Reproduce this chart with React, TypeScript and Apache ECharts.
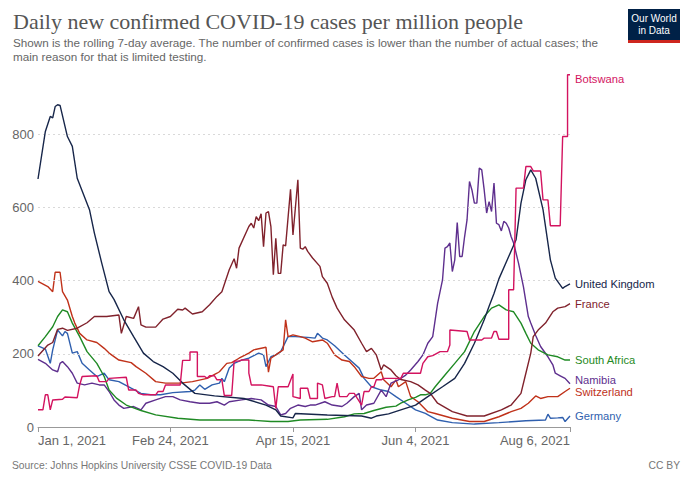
import React, { useEffect, useRef } from 'react';
import * as echarts from 'echarts';

const monthNames = ['Jan', 'Feb', 'Mar', 'Apr', 'May', 'Jun', 'Jul', 'Aug', 'Sep', 'Oct', 'Nov', 'Dec'];
const startDate = Date.UTC(2021, 0, 1);
const dayCount = 218; // Jan 1 .. Aug 6, 2021
const categories: string[] = Array.from({ length: dayCount }, (_, i) => {
  const d = new Date(startDate + i * 86400000);
  return `${monthNames[d.getUTCMonth()]} ${d.getUTCDate()}, ${d.getUTCFullYear()}`;
});
const tickDays = [0, 54, 104, 154, 217];
const tickLabels = ['Jan 1, 2021', 'Feb 24, 2021', 'Apr 15, 2021', 'Jun 4, 2021', 'Aug 6, 2021'];
const yTicks = [0, 200, 400, 600, 800];
const gridValues = [200, 400, 600, 800];

const germany = [[0,222],[3,213],[5,174],[6,211],[8,265],[10,249],[11,261],[12,256],[14,202],[16,206],[18,174],[21,156],[24,138],[27,147],[29,129],[33,124],[38,106],[42,92],[46,88],[50,88],[55,94],[62,97],[64,101],[66,115],[68,103],[71,115],[74,120],[75,133],[76,124],[78,161],[80,174],[83,183],[86,188],[90,202],[92,197],[93,165],[95,192],[97,197],[99,206],[102,247],[105,247],[110,245],[113,243],[114,256],[116,243],[118,238],[121,222],[125,197],[128,179],[131,161],[133,133],[136,110],[140,101],[143,97],[146,83],[150,65],[154,47],[158,37],[160,30],[163,19],[169,12],[178,8],[188,12],[199,17],[207,19],[208,35],[209,24],[212,25],[214,26],[215,15],[217,30]];

const switzerland = [[0,398],[4,384],[6,370],[7,423],[9,423],[10,370],[12,347],[14,302],[15,284],[17,256],[20,238],[24,231],[27,215],[29,202],[33,183],[38,176],[40,165],[44,147],[48,124],[52,120],[58,120],[63,124],[69,133],[73,147],[74,151],[77,174],[79,176],[82,188],[86,202],[88,211],[93,218],[94,150],[95,188],[98,202],[100,211],[101,293],[102,247],[104,252],[107,247],[109,243],[112,233],[116,238],[118,229],[121,197],[124,183],[127,179],[129,165],[132,138],[135,133],[137,133],[140,151],[141,129],[144,110],[146,129],[147,110],[150,124],[152,83],[155,69],[159,42],[162,37],[169,24],[176,15],[182,15],[188,28],[193,42],[197,51],[200,65],[203,85],[205,78],[208,83],[212,83],[215,97],[217,106]];

const namibia = [[0,185],[3,174],[6,156],[8,151],[9,174],[10,179],[12,165],[14,147],[16,120],[19,115],[22,120],[25,115],[27,115],[29,97],[31,74],[33,60],[35,51],[39,56],[42,47],[44,65],[48,74],[52,83],[55,83],[58,74],[62,69],[66,65],[70,65],[73,69],[76,60],[78,69],[83,74],[87,78],[91,74],[94,60],[97,56],[99,33],[101,37],[103,51],[106,60],[109,56],[111,60],[113,60],[117,69],[120,60],[124,56],[126,65],[129,83],[131,92],[132,47],[134,60],[137,65],[140,101],[142,83],[144,120],[147,129],[150,142],[152,156],[155,179],[157,197],[159,229],[161,247],[163,338],[165,402],[166,489],[167,493],[168,503],[169,425],[170,457],[171,559],[172,466],[173,466],[174,520],[175,566],[176,671],[177,648],[178,612],[179,612],[180,708],[181,703],[182,648],[183,585],[184,616],[185,589],[186,667],[187,557],[188,553],[189,536],[190,562],[191,557],[192,544],[193,520],[194,503],[196,448],[198,384],[200,302],[201,284],[203,250],[205,220],[208,192],[210,170],[211,147],[213,140],[215,133],[217,118]];

const southAfrica = [[0,222],[3,247],[6,274],[8,302],[10,320],[12,315],[14,284],[17,247],[20,206],[24,174],[27,138],[29,101],[32,79],[36,60],[42,45],[48,33],[57,24],[66,19],[72,19],[86,19],[95,15],[102,15],[107,19],[118,21],[125,28],[129,36],[133,37],[137,45],[142,54],[146,57],[148,65],[151,74],[154,81],[156,88],[158,88],[160,92],[162,110],[166,142],[170,174],[174,206],[178,261],[182,302],[185,325],[188,334],[191,320],[194,315],[197,284],[199,256],[201,229],[204,211],[208,197],[212,192],[215,183],[217,183]];

const france = [[0,194],[4,224],[6,231],[8,267],[10,270],[12,264],[16,270],[20,285],[23,302],[28,302],[33,306],[34,256],[36,302],[39,297],[41,329],[42,279],[44,273],[48,273],[51,295],[54,302],[57,322],[59,320],[60,325],[63,309],[67,315],[70,334],[73,357],[75,370],[78,430],[80,460],[81,434],[82,489],[86,548],[87,557],[88,544],[89,575],[90,564],[91,583],[92,493],[93,585],[94,589],[95,548],[96,416],[97,516],[98,420],[99,420],[100,498],[101,495],[103,650],[104,525],[106,676],[107,489],[108,486],[109,493],[110,480],[112,462],[115,439],[116,411],[118,393],[120,355],[122,325],[125,293],[129,265],[132,229],[134,206],[136,215],[138,197],[140,156],[141,170],[144,156],[146,140],[148,130],[152,124],[155,115],[158,101],[160,92],[163,65],[169,42],[175,30],[182,30],[189,47],[193,60],[197,92],[199,147],[201,202],[202,247],[204,265],[207,284],[210,315],[212,325],[215,329],[217,337]];

const unitedKingdom = [[0,678],[3,808],[5,849],[6,845],[7,876],[8,881],[9,879],[12,794],[14,767],[16,680],[21,594],[23,530],[26,448],[29,370],[31,349],[35,293],[39,247],[43,202],[47,179],[51,165],[55,147],[59,120],[64,92],[72,85],[84,78],[93,60],[97,47],[99,30],[104,25],[105,37],[118,33],[132,30],[136,24],[138,30],[143,36],[148,47],[154,60],[159,83],[165,110],[170,133],[174,174],[178,229],[182,293],[184,330],[186,365],[188,405],[192,466],[195,512],[197,612],[199,676],[201,703],[203,680],[206,594],[209,457],[211,407],[214,379],[215,384],[217,391]];

const botswana = [[0,47],[2,47],[3,88],[4,88],[5,47],[6,74],[10,76],[11,82],[16,80],[17,115],[18,138],[24,140],[25,124],[28,124],[29,133],[36,136],[37,101],[40,101],[41,92],[43,88],[48,88],[49,97],[51,97],[52,115],[58,115],[59,182],[62,182],[62,205],[65,205],[65,138],[68,138],[69,133],[70,140],[72,140],[73,129],[75,129],[76,86],[79,86],[80,180],[82,180],[83,183],[86,183],[86,147],[87,115],[91,115],[94,112],[96,110],[97,51],[98,110],[102,110],[104,145],[104,83],[107,78],[107,106],[110,106],[111,78],[114,78],[114,120],[116,115],[117,78],[120,83],[121,83],[122,120],[123,83],[126,83],[127,92],[129,92],[130,81],[132,60],[133,97],[135,97],[136,110],[137,110],[138,129],[140,129],[141,133],[148,133],[149,147],[156,147],[157,174],[159,192],[161,195],[164,206],[167,206],[168,224],[168,265],[175,261],[176,238],[181,238],[182,243],[185,243],[186,261],[187,261],[188,240],[192,240],[192,375],[194,375],[195,653],[198,653],[199,712],[201,712],[202,700],[205,700],[206,621],[208,621],[209,550],[213,550],[214,794],[216,794],[216,963],[217,963]];

const countryNames = ['Germany', 'Switzerland', 'Namibia', 'South Africa', 'France', 'United Kingdom', 'Botswana'];
const countryData = [germany, switzerland, namibia, southAfrica, france, unitedKingdom, botswana];
const countryColors = ['#2f5fae', '#c0321a', '#5e2f8e', '#1f8a24', '#80222c', '#17264a', '#d3135f'];
const labelOffsets = [0, 4, -4, 0, 0, 0, 4];

const sans = '"Liberation Sans", Arial, Helvetica, sans-serif';

export default function App() {
  const ref = useRef<HTMLDivElement>(null);
  useEffect(() => {
    if (!ref.current) return;
    const chart = echarts.init(ref.current, undefined, { renderer: 'svg' });
    const series: any[] = countryNames.map((name, i) => ({
      name,
      type: 'line',
      data: countryData[i],
      showSymbol: false,
      symbol: 'none',
      lineStyle: { color: countryColors[i], width: 1.4 },
      itemStyle: { color: countryColors[i] },
      emphasis: { disabled: true },
      endLabel: {
        show: true,
        formatter: '{a}',
        color: countryColors[i],
        fontFamily: sans,
        fontSize: 11.2,
        distance: 5,
        offset: [0, labelOffsets[i]],
      },
      markLine: i === 0 ? {
        silent: true,
        symbol: 'none',
        label: { show: false },
        lineStyle: { color: '#d9d9d9', type: [2, 3], width: 1 },
        data: gridValues.map((v) => ({ yAxis: v })),
      } : undefined,
      z: 2 + i,
    }));
    chart.setOption({
      animation: false,
      grid: { left: 38, right: 120, top: 74, bottom: 60, containLabel: false },
      title: [
        {
          text: 'Daily new confirmed COVID-19 cases per million people',
          left: 13,
          top: 10,
          padding: 0,
          textStyle: { fontFamily: '"Liberation Serif", "DejaVu Serif", serif', fontSize: 22, fontWeight: 'normal', color: '#555555' },
        },
        {
          text: 'Shown is the rolling 7-day average. The number of confirmed cases is lower than the number of actual cases; the\nmain reason for that is limited testing.',
          left: 13,
          top: 35,
          padding: 0,
          textStyle: { fontFamily: sans, fontSize: 11.7, fontWeight: 'normal', color: '#666666', lineHeight: 14.5 },
        },
        {
          text: 'Source: Johns Hopkins University CSSE COVID-19 Data',
          left: 12,
          top: 460,
          padding: 0,
          textStyle: { fontFamily: sans, fontSize: 10.3, fontWeight: 'normal', color: '#777777' },
        },
        {
          text: 'CC BY',
          right: 10,
          top: 460,
          padding: 0,
          textStyle: { fontFamily: sans, fontSize: 10.3, fontWeight: 'normal', color: '#777777' },
        },
      ],
      graphic: [
        {
          type: 'group',
          left: 628,
          top: 9,
          children: [
            { type: 'rect', shape: { x: 0, y: 0, width: 52, height: 34 }, style: { fill: '#002147' } },
            { type: 'rect', shape: { x: 0, y: 31, width: 52, height: 3 }, style: { fill: '#ce261e' } },
            { type: 'text', x: 26, y: 9, style: { text: 'Our World', fill: '#ffffff', font: '10px "Liberation Sans", Arial, sans-serif', align: 'center', verticalAlign: 'middle' } },
            { type: 'text', x: 26, y: 21, style: { text: 'in Data', fill: '#ffffff', font: '10px "Liberation Sans", Arial, sans-serif', align: 'center', verticalAlign: 'middle' } },
          ],
        },
      ],
      xAxis: {
        type: 'category',
        data: categories,
        boundaryGap: false,
        axisLine: { show: true, lineStyle: { color: '#999999', width: 1 } },
        axisTick: { show: true, length: 5, interval: (idx: number) => tickDays.includes(idx), lineStyle: { color: '#999999' } },
        axisLabel: {
          interval: (idx: number) => tickDays.includes(idx),
          formatter: (value: string) => {
            const k = tickDays.indexOf(categories.indexOf(value));
            return k >= 0 ? tickLabels[k] : '';
          },
          color: '#666666',
          fontFamily: sans,
          fontSize: 13,
          margin: 7,
          alignMinLabel: 'left',
          alignMaxLabel: 'right',
        },
        splitLine: { show: false },
      },
      yAxis: {
        type: 'value',
        min: 0,
        max: 965,
        interval: 200,
        axisLine: { show: false },
        axisTick: { show: false },
        splitLine: { show: false },
        axisLabel: {
          formatter: (v: number) => (yTicks.includes(v) ? String(v) : ''),
          color: '#666666',
          fontFamily: sans,
          fontSize: 13,
          margin: 4,
        },
      },
      series,
    });
    return () => chart.dispose();
  }, []);
  return <div ref={ref} style={{ width: 690, height: 487, position: 'absolute', left: 0, top: 0 }} />;
}
